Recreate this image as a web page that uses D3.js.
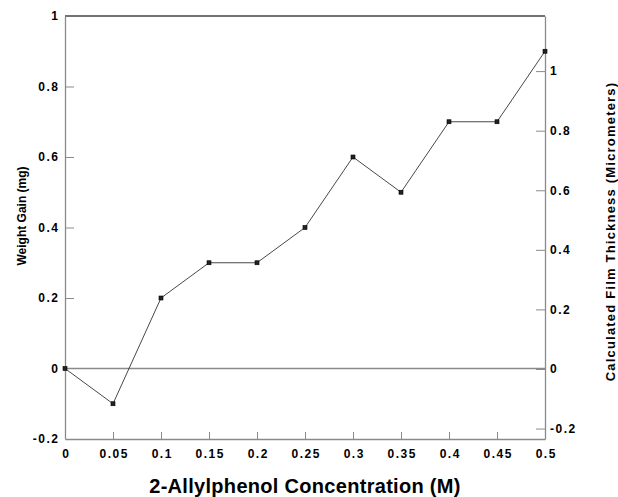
<!DOCTYPE html>
<html>
<head>
<meta charset="utf-8">
<script src="https://cdn.jsdelivr.net/npm/d3@7"></script>
<style>
  body { margin: 0; background: #fff; }
  svg text { font-family: Arial, "Liberation Sans", Helvetica, sans-serif; font-weight: bold; fill: #000; }
</style>
</head>
<body>
<svg id="chart" width="618" height="497"></svg>
<script>
const width = 618;
const height = 497;
const marginTop = 16;
const marginRight = 73;
const marginBottom = 58;
const marginLeft = 65;

// concentration (M) vs weight gain (mg)
const concentration = [0, 0.05, 0.1, 0.15, 0.2, 0.25, 0.3, 0.35, 0.4, 0.45, 0.5];
const weightGain = [0, -0.1, 0.2, 0.3, 0.3, 0.4, 0.6, 0.5, 0.7, 0.7, 0.9];

const xTicks = [0, 0.05, 0.1, 0.15, 0.2, 0.25, 0.3, 0.35, 0.4, 0.45, 0.5];
const yTicks = [-0.2, 0, 0.2, 0.4, 0.6, 0.8, 1];
const yTicksRight = [-0.2, 0, 0.2, 0.4, 0.6, 0.8, 1];
const thicknessDomain = [-0.235, 1.185];

const svg = d3.select("#chart");

const xScale = d3.scaleLinear()
    .domain([0, 0.5])
    .range([marginLeft, width - marginRight]);

const yScale = d3.scaleLinear()
    .domain([-0.2, 1])
    .range([height - marginBottom, marginTop]);

const yScaleRight = d3.scaleLinear()
    .domain(thicknessDomain)
    .range([height - marginBottom, marginTop]);

const axisColor = "#8a8a8a";
const fmt = d => String(d);

// top border
svg.append("line")
    .attr("x1", marginLeft).attr("x2", width - marginRight)
    .attr("y1", marginTop).attr("y2", marginTop)
    .attr("stroke", "#444").attr("stroke-width", 1.3);

// zero line
svg.append("line")
    .attr("x1", marginLeft).attr("x2", width - marginRight)
    .attr("y1", yScale(0)).attr("y2", yScale(0))
    .attr("stroke", axisColor).attr("stroke-width", 1.3);

function styleAxis(g) {
    g.select(".domain").attr("stroke", axisColor).attr("stroke-width", 1.3);
    g.selectAll(".tick line").attr("stroke", axisColor).attr("stroke-width", 1);
    g.selectAll(".tick text").attr("font-size", 12).style("letter-spacing", "1.5px");
}

// bottom axis, ticks pointing in
svg.append("g")
    .attr("transform", `translate(0,${height - marginBottom})`)
    .call(d3.axisBottom(xScale).tickValues(xTicks).tickSizeInner(-7).tickSizeOuter(0)
        .tickFormat(fmt))
    .call(styleAxis)
    .call(g => g.selectAll(".tick text").attr("dy", "0.71em").attr("y", 10).attr("dx", "0.75px"));

// left axis
svg.append("g")
    .attr("transform", `translate(${marginLeft},0)`)
    .call(d3.axisLeft(yScale).tickValues(yTicks).tickSizeInner(-9).tickSizeOuter(0)
        .tickFormat(fmt))
    .call(styleAxis)
    .call(g => g.selectAll(".tick text").attr("x", -5.5))
    .call(g => g.selectAll(".tick").filter(d => d === 1 || d === -0.2 || d === 0).select("line").remove());

// right axis
svg.append("g")
    .attr("transform", `translate(${width - marginRight},0)`)
    .call(d3.axisRight(yScaleRight).tickValues(yTicksRight).tickSizeInner(-9).tickSizeOuter(0)
        .tickFormat(fmt))
    .call(styleAxis)
    .call(g => g.selectAll(".tick text").attr("x", 5));

// data line
const line = d3.line()
    .x((d, i) => xScale(concentration[i]))
    .y(d => yScale(d));

svg.append("path")
    .datum(weightGain)
    .attr("fill", "none")
    .attr("stroke", "#333")
    .attr("stroke-width", 0.9)
    .attr("d", line);

svg.append("g")
    .selectAll("rect")
    .data(weightGain)
    .join("rect")
    .attr("x", (d, i) => xScale(concentration[i]) - 2)
    .attr("y", d => yScale(d) - 2)
    .attr("width", 4)
    .attr("height", 4)
    .attr("fill", "#222")
    .attr("stroke", "#000")
    .attr("stroke-width", 0.6);

// axis titles
svg.append("text")
    .attr("x", (marginLeft + width - marginRight) / 2)
    .attr("y", 493)
    .attr("text-anchor", "middle")
    .attr("font-size", 20)
    .style("letter-spacing", "0.3px")
    .text("2-Allylphenol Concentration (M)");

svg.append("text")
    .attr("transform", `translate(25.5,216) rotate(-90)`)
    .attr("text-anchor", "middle")
    .attr("font-size", 12)
    .text("Weight Gain (mg)");

svg.append("text")
    .attr("transform", `translate(614.5,231.5) rotate(-90)`)
    .attr("text-anchor", "middle")
    .attr("font-size", 13)
    .style("letter-spacing", "1.2px")
    .text("Calculated Film Thickness (Micrometers)");
</script>
</body>
</html>
